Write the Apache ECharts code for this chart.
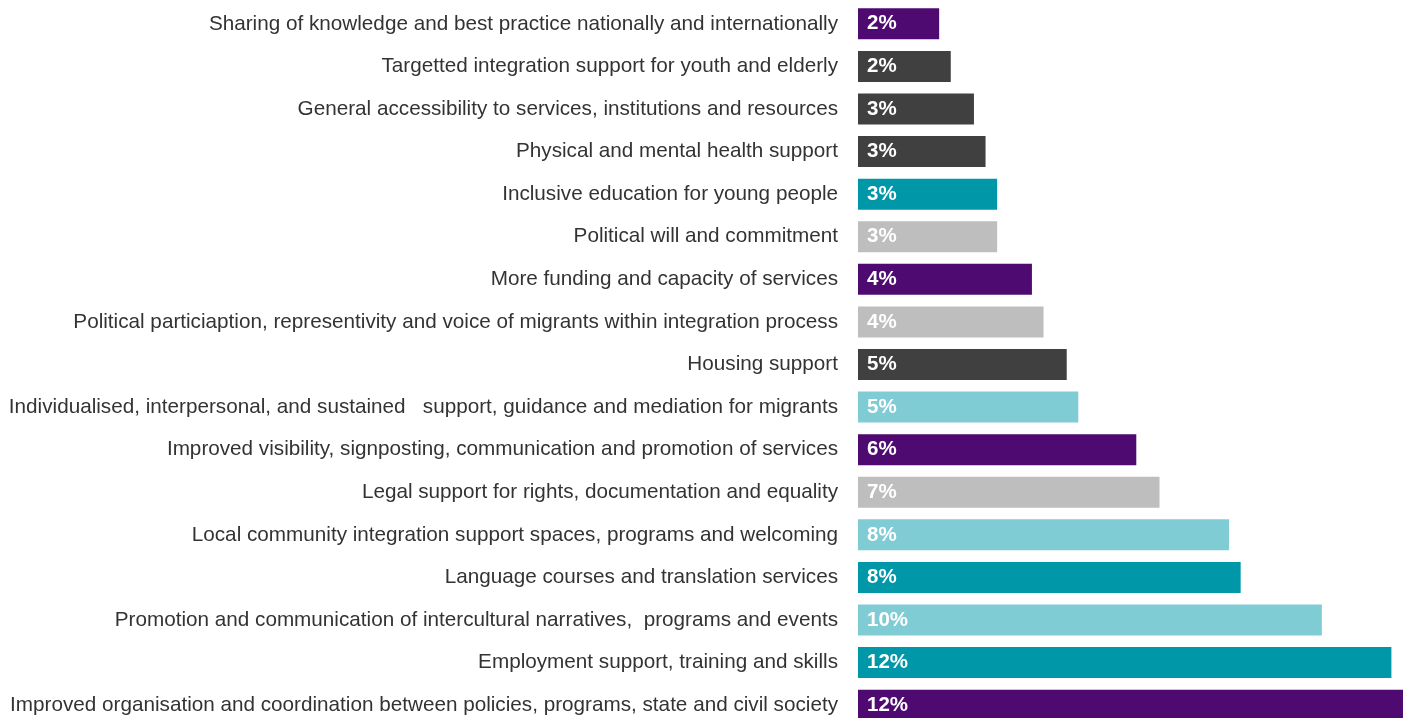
<!DOCTYPE html>
<html>
<head>
<meta charset="utf-8">
<script src="https://cdn.jsdelivr.net/npm/echarts@6/dist/echarts.min.js"></script>
<style>
html,body{margin:0;padding:0;background:#fff;}
#chart{width:1410px;height:718px;}
</style>
</head>
<body>
<div id="chart"></div>
<script>
// Categories listed top to bottom
const categories = [
  "Sharing of knowledge and best practice nationally and internationally",
  "Targetted integration support for youth and elderly",
  "General accessibility to services, institutions and resources",
  "Physical and mental health support",
  "Inclusive education for young people",
  "Political will and commitment",
  "More funding and capacity of services",
  "Political particiaption, representivity and voice of migrants within integration process",
  "Housing support",
  "Individualised, interpersonal, and sustained   support, guidance and mediation for migrants",
  "Improved visibility, signposting, communication and promotion of services",
  "Legal support for rights, documentation and equality",
  "Local community integration support spaces, programs and welcoming",
  "Language courses and translation services",
  "Promotion and communication of intercultural narratives,  programs and events",
  "Employment support, training and skills",
  "Improved organisation and coordination between policies, programs, state and civil society"
];
// Share of responses (%), top to bottom
const values = [1.75, 2, 2.5, 2.75, 3, 3, 3.75, 4, 4.5, 4.75, 6, 6.5, 8, 8.25, 10, 11.5, 11.75];
// Colour group for each bar
const groups = ["purple","dark","dark","dark","teal","grey","purple","grey","dark","lightteal","purple","grey","lightteal","teal","lightteal","teal","purple"];
const palette = {purple:"#4F0A72", dark:"#404041", teal:"#0097A8", grey:"#BDBEBD", lightteal:"#80CCD5"};

const chart = echarts.init(document.getElementById('chart'));
chart.setOption({
  animation: false,
  grid: {left: 858, right: 7, top: 2.5, height: 724, containLabel: false, outerBoundsMode: 'none'},
  xAxis: {type: 'value', min: 0, max: 11.75, show: false},
  yAxis: {
    type: 'category',
    inverse: true,
    data: categories,
    axisLine: {show: false},
    axisTick: {show: false},
    axisLabel: {
      margin: 20,
      color: '#333333',
      fontSize: 20.7,
      padding: [4, 0, 0, 0],
      fontFamily: 'Liberation Sans, Arial, sans-serif'
    }
  },
  series: [{
    type: 'bar',
    barWidth: 31,
    data: values.map((v, i) => ({value: v, itemStyle: {color: palette[groups[i]]}})),
    label: {
      show: true,
      position: 'insideLeft',
      distance: 9,
      color: '#ffffff',
      fontWeight: 'bold',
      fontSize: 20.5,
      padding: [4, 0, 0, 0],
      fontFamily: 'Liberation Sans, Arial, sans-serif',
      formatter: p => Math.round(p.value) + '%'
    }
  }]
});
</script>
</body>
</html>
